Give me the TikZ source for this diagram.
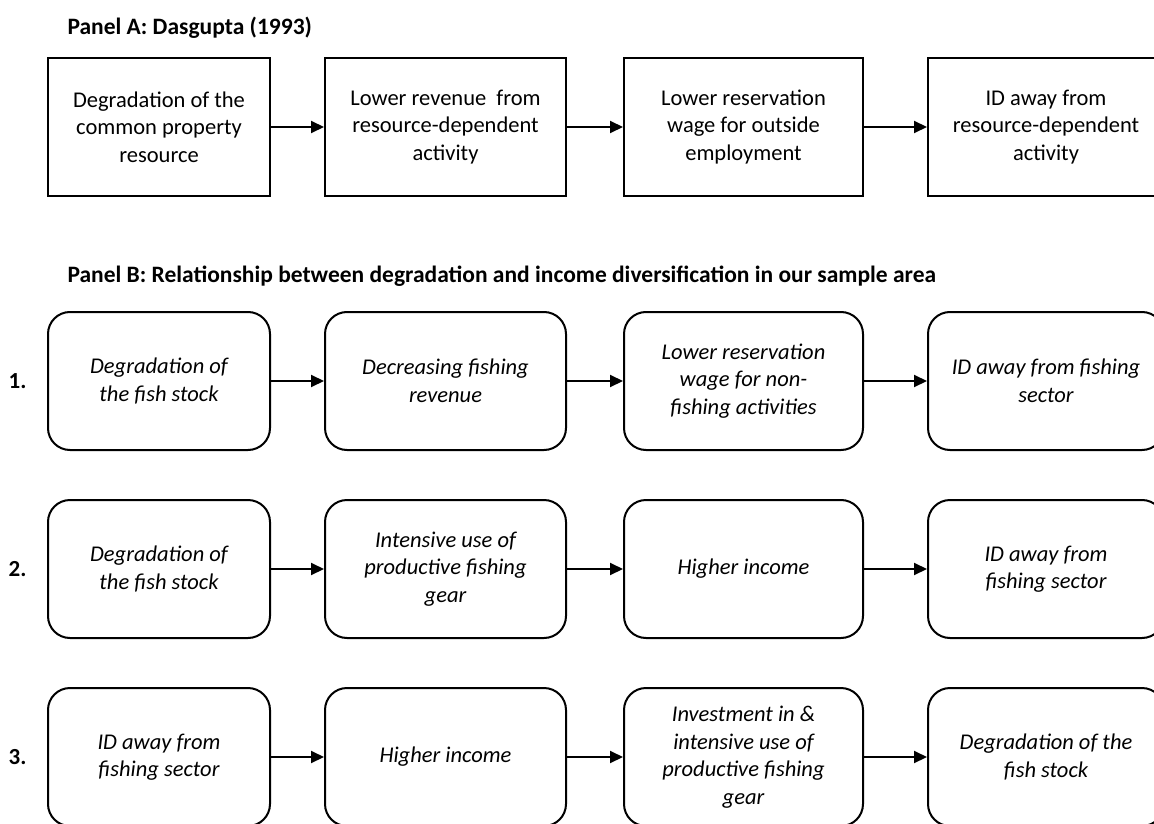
\documentclass[tikz,border=0pt]{standalone}
\usepackage{fontspec}
\setmainfont{Carlito}
\usepackage{tikz}
\usetikzlibrary{arrows.meta,positioning}
\tikzset{
  sqbox/.style={draw, line width=2pt, minimum height=138pt, align=center, inner sep=0pt,
    font=\fontsize{22.5}{27.5}\selectfont},
  rdbox/.style={sqbox, rounded corners=22pt, font=\fontsize{22.5}{27.5}\selectfont\itshape},
  flow/.style={-{Triangle[length=13pt,width=12pt]}, line width=2pt},
  panel/.style={anchor=west, font=\fontsize{23.5}{28}\selectfont\bfseries},
  rownum/.style={font=\fontsize{23}{28}\selectfont\bfseries}
}

\begin{document}
\begin{tikzpicture}
  \useasboundingbox (0,0) rectangle (1154pt,-824pt);
                   % Panel A
                   \node[panel] (ta) at (64pt,-28pt) {Panel A: Dasgupta (1993)};
                   \node[sqbox,minimum width=222pt] (a_1) at (159pt,-127pt) {Degradation of the\\common property\\resource};
                   \node[sqbox,minimum width=241pt] (a_2) [right=53pt of a_1] {Lower revenue \ from\\resource-dependent\\activity};
                   \node[sqbox,minimum width=239pt] (a_3) [right=56pt of a_2] {Lower reservation\\wage for outside\\employment};
                   \node[sqbox,minimum width=236pt] (a_4) [right=63pt of a_3] {ID away from\\resource-dependent\\activity};
                   % Panel B
                   \node[panel] (tb) at (64pt,-276pt) {Panel B: Relationship between degradation and income diversification in our sample area};
                   \node[rdbox,minimum width=222pt] (b_1) at (159pt,-381pt) {Degradation of\\the fish stock};
                   \node[rdbox,minimum width=241pt] (b_2) [right=53pt of b_1] {Decreasing fishing\\revenue};
                   \node[rdbox,minimum width=239pt] (b_3) [right=56pt of b_2] {Lower reservation\\wage for non-\\fishing activities};
                   \node[rdbox,minimum width=236pt] (b_4) [right=63pt of b_3] {ID away from fishing\\sector};
                   \node[rdbox,minimum width=222pt] (c_1) [below=48pt of b_1] {Degradation of\\the fish stock};
                   \node[rdbox,minimum width=241pt] (c_2) [right=53pt of c_1] {Intensive use of\\productive fishing\\gear};
                   \node[rdbox,minimum width=239pt] (c_3) [right=56pt of c_2] {Higher income};
                   \node[rdbox,minimum width=236pt] (c_4) [right=63pt of c_3] {ID away from\\fishing sector};
                   \node[rdbox,minimum width=222pt] (d_1) [below=48pt of c_1] {ID away from\\fishing sector};
                   \node[rdbox,minimum width=241pt] (d_2) [right=53pt of d_1] {Higher income};
                   \node[rdbox,minimum width=239pt] (d_3) [right=56pt of d_2] {Investment in \&\\intensive use of\\productive fishing\\gear};
                   \node[rdbox,minimum width=236pt] (d_4) [right=63pt of d_3] {Degradation of the\\fish stock};
                   \node[rownum] (n_1) [left=17pt of b_1] {1.};
                   \node[rownum] (n_2) [left=17pt of c_1] {2.};
                   \node[rownum] (n_3) [left=17pt of d_1] {3.};
                    \path[flow]
                    (a_1) edge (a_2)
                    (a_2) edge (a_3)
                    (a_3) edge (a_4)
                    (b_1) edge (b_2)
                    (b_2) edge (b_3)
                    (b_3) edge (b_4)
                    (c_1) edge (c_2)
                    (c_2) edge (c_3)
                    (c_3) edge (c_4)
                    (d_1) edge (d_2)
                    (d_2) edge (d_3)
                    (d_3) edge (d_4);
                \end{tikzpicture}
\end{document}
